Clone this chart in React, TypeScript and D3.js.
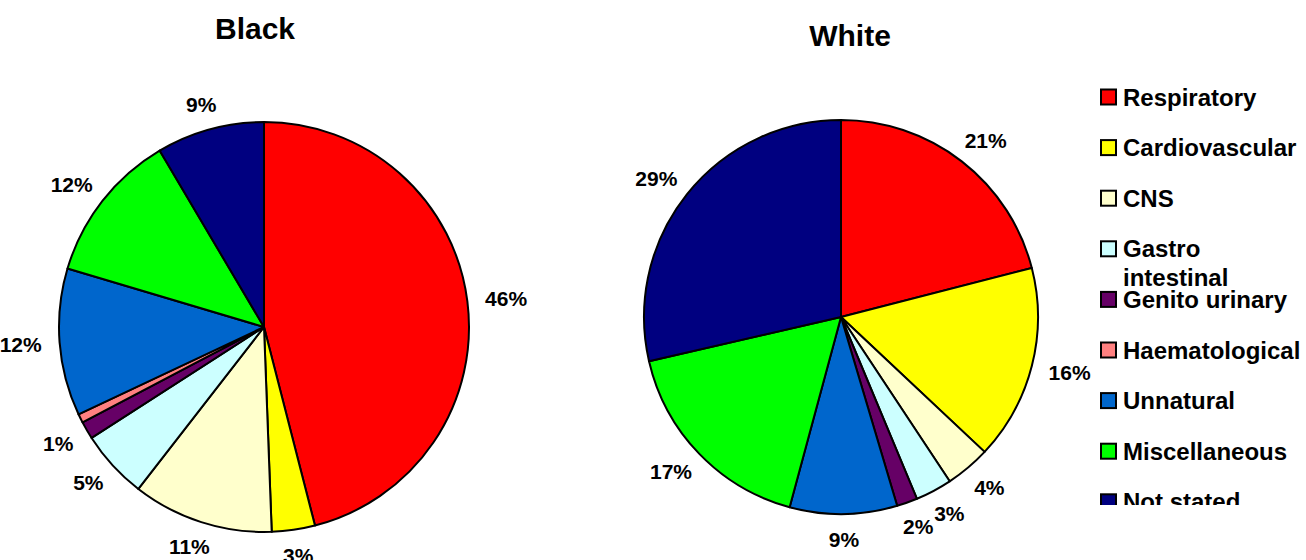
import React from "react";
import * as d3 from "d3";

// Causes of death, share of deaths (%) per population group
const categories = [
  "Respiratory",
  "Cardiovascular",
  "CNS",
  "Gastro intestinal",
  "Genito urinary",
  "Haematological",
  "Unnatural",
  "Miscellaneous",
  "Not stated",
];

const blackShares = [46.0, 3.4, 11.1, 5.4, 1.4, 0.7, 11.6, 11.9, 8.5];
const whiteShares = [21.0, 16.0, 3.7, 3.0, 1.7, 0, 8.8, 17.2, 28.6];

const sliceColors = [
  "#FF0000",
  "#FFFF00",
  "#FFFFCC",
  "#CCFFFF",
  "#660066",
  "#FF8080",
  "#0066CC",
  "#00FF00",
  "#000080",
];

const legendLines = [
  ["Respiratory"],
  ["Cardiovascular"],
  ["CNS"],
  ["Gastro", "intestinal"],
  ["Genito urinary"],
  ["Haematological"],
  ["Unnatural"],
  ["Miscellaneous"],
  ["Not stated"],
];

const FONT = "'Liberation Sans', Arial, Helvetica, sans-serif";

type PieProps = {
  title: string;
  values: number[];
  cx: number;
  cy: number;
  r: number;
  titleX: number;
  titleY: number;
};

function Pie({ title, values, cx, cy, r, titleX, titleY }: PieProps) {
  const pie = d3
    .pie<number>()
    .sort(null)
    .value((d) => d)
    .startAngle(0)
    .endAngle(2 * Math.PI);
  const arcs = pie(values);
  const arc = d3.arc<d3.PieArcDatum<number>>().innerRadius(0).outerRadius(r);

  const fontSize = 21;
  const charW = fontSize * 0.556;
  const labelGap = 18;

  return (
    <g>
      <text
        x={titleX}
        y={titleY}
        textAnchor="middle"
        fontFamily={FONT}
        fontWeight="bold"
        fontSize={30}
        fill="#000"
      >
        {title}
      </text>
      <g transform={`translate(${cx},${cy})`}>
        {arcs.map((a, i) =>
          a.value > 0 ? (
            <path
              key={i}
              d={arc(a) || ""}
              fill={sliceColors[i]}
              stroke="#000"
              strokeWidth={2}
              strokeLinejoin="round"
            />
          ) : null
        )}
        {arcs.map((a, i) => {
          // slices under 1% carry no label
          if (a.value < 1) return null;
          const label = `${Math.round(a.value)}%`;
          const mid = (a.startAngle + a.endAngle) / 2;
          const s = Math.sin(mid);
          const c = Math.cos(mid);
          const w = (label.length - 1) * charW + fontSize * 0.889;
          const h = fontSize * 0.75;
          const x = (r + labelGap) * s + (s * w) / 2;
          const y = -(r + labelGap) * c - (c * h) / 2;
          return (
            <text
              key={`l${i}`}
              x={x}
              y={y}
              dy="0.36em"
              textAnchor="middle"
              fontFamily={FONT}
              fontWeight="bold"
              fontSize={fontSize}
              fill="#000"
            >
              {label}
            </text>
          );
        })}
      </g>
    </g>
  );
}

function Legend() {
  const x0 = 1100;
  const top = 97;
  const step = 50.6;
  const box = 15;
  return (
    <g clipPath="url(#legendClip)">
      {categories.map((cat, i) => {
        const yc = top + i * step;
        return (
          <g key={cat}>
            <rect
              x={x0 + 1}
              y={yc - box / 2}
              width={box}
              height={box}
              fill={sliceColors[i]}
              stroke="#000"
              strokeWidth={2}
            />
            <text
              x={x0 + 23}
              y={yc + 8.5}
              fontFamily={FONT}
              fontWeight="bold"
              fontSize={24}
              fill="#000"
            >
              {legendLines[i].map((ln, j) => (
                <tspan key={j} x={x0 + 23} dy={j === 0 ? 0 : 29}>
                  {ln}
                </tspan>
              ))}
            </text>
          </g>
        );
      })}
    </g>
  );
}

export default function App() {
  return (
    <svg
      width={1306}
      height={560}
      style={{ position: "absolute", left: 0, top: 0, background: "#fff" }}
    >
      <defs>
        <clipPath id="legendClip">
          <rect x={1080} y={60} width={226} height={445} />
        </clipPath>
      </defs>
      <rect width={1306} height={560} fill="#fff" />
      <Pie
        title="Black"
        values={blackShares}
        cx={264}
        cy={327}
        r={205}
        titleX={255}
        titleY={39}
      />
      <Pie
        title="White"
        values={whiteShares}
        cx={841}
        cy={317}
        r={197}
        titleX={850}
        titleY={46}
      />
      <Legend />
    </svg>
  );
}
